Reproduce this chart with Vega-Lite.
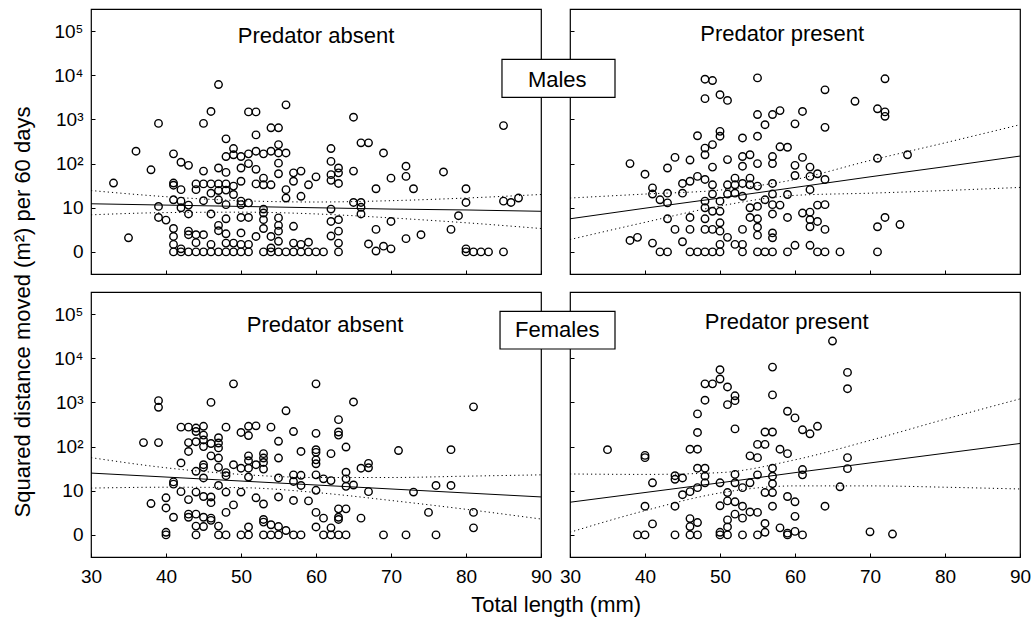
{
  "$schema": "https://vega.github.io/schema/vega-lite/v6.json",
  "padding": {"left": 12, "top": 8, "right": 4, "bottom": 8},
  "background": "white",
  "config": {
    "font": "Liberation Sans",
    "view": {"stroke": "black", "strokeWidth": 1.2},
    "axis": {"domain": false, "grid": false, "tickColor": "black", "labelColor": "black", "labelFont": "Liberation Sans", "labelFontSize": 19, "labelOverlap": false, "labelFlush": false},
    "title": {"font": "Liberation Sans", "fontSize": 22, "fontWeight": "normal", "color": "black"},
    "text": {"font": "Liberation Sans", "fontSize": 22, "color": "black"}
  },
  "title": {"text": "Squared distance moved (m²) per 60 days", "orient": "left", "anchor": "middle", "offset": 18},
  "datasets": {
    "fits": [
      {"panel": "males_absent", "length": 30, "fit": 1.09, "lo": 0.84, "hi": 1.39},
      {"panel": "males_absent", "length": 40, "fit": 1.06, "lo": 0.89, "hi": 1.25},
      {"panel": "males_absent", "length": 50, "fit": 1.03, "lo": 0.90, "hi": 1.16},
      {"panel": "males_absent", "length": 60, "fit": 1.00, "lo": 0.86, "hi": 1.13},
      {"panel": "males_absent", "length": 70, "fit": 0.97, "lo": 0.77, "hi": 1.16},
      {"panel": "males_absent", "length": 80, "fit": 0.95, "lo": 0.66, "hi": 1.22},
      {"panel": "males_absent", "length": 90, "fit": 0.92, "lo": 0.53, "hi": 1.30},
      {"panel": "males_present", "length": 30, "fit": 0.75, "lo": 0.28, "hi": 1.22},
      {"panel": "males_present", "length": 40, "fit": 0.99, "lo": 0.67, "hi": 1.31},
      {"panel": "males_present", "length": 50, "fit": 1.22, "lo": 1.04, "hi": 1.40},
      {"panel": "males_present", "length": 60, "fit": 1.46, "lo": 1.28, "hi": 1.64},
      {"panel": "males_present", "length": 70, "fit": 1.70, "lo": 1.33, "hi": 2.07},
      {"panel": "males_present", "length": 80, "fit": 1.93, "lo": 1.39, "hi": 2.47},
      {"panel": "males_present", "length": 90, "fit": 2.17, "lo": 1.46, "hi": 2.88},
      {"panel": "females_absent", "length": 30, "fit": 1.40, "lo": 1.06, "hi": 1.75},
      {"panel": "females_absent", "length": 40, "fit": 1.31, "lo": 1.08, "hi": 1.52},
      {"panel": "females_absent", "length": 50, "fit": 1.22, "lo": 1.07, "hi": 1.37},
      {"panel": "females_absent", "length": 60, "fit": 1.13, "lo": 0.96, "hi": 1.30},
      {"panel": "females_absent", "length": 70, "fit": 1.04, "lo": 0.78, "hi": 1.30},
      {"panel": "females_absent", "length": 80, "fit": 0.95, "lo": 0.58, "hi": 1.33},
      {"panel": "females_absent", "length": 90, "fit": 0.86, "lo": 0.36, "hi": 1.36},
      {"panel": "females_present", "length": 30, "fit": 0.74, "lo": 0.06, "hi": 1.38},
      {"panel": "females_present", "length": 40, "fit": 0.96, "lo": 0.55, "hi": 1.37},
      {"panel": "females_present", "length": 50, "fit": 1.18, "lo": 0.95, "hi": 1.41},
      {"panel": "females_present", "length": 60, "fit": 1.41, "lo": 1.11, "hi": 1.70},
      {"panel": "females_present", "length": 70, "fit": 1.63, "lo": 1.11, "hi": 2.14},
      {"panel": "females_present", "length": 80, "fit": 1.85, "lo": 1.08, "hi": 2.62},
      {"panel": "females_present", "length": 90, "fit": 2.07, "lo": 1.04, "hi": 3.08}
    ],
    "males_absent": [
      {"length": 33, "log_dist": 1.56}, {"length": 35, "log_dist": 0.32}, {"length": 36, "log_dist": 2.28}, {"length": 38, "log_dist": 1.86},
      {"length": 39, "log_dist": 2.91}, {"length": 39, "log_dist": 1.03}, {"length": 39, "log_dist": 0.78}, {"length": 40, "log_dist": 0.72},
      {"length": 41, "log_dist": 2.22}, {"length": 41, "log_dist": 1.56}, {"length": 41, "log_dist": 1.51}, {"length": 41, "log_dist": 1.18}, {"length": 41, "log_dist": 0.53}, {"length": 41, "log_dist": 0.35}, {"length": 41, "log_dist": 0.17}, {"length": 41, "log_dist": 0},
      {"length": 42, "log_dist": 2.03}, {"length": 42, "log_dist": 1.41}, {"length": 42, "log_dist": 1.15}, {"length": 42, "log_dist": 1.0}, {"length": 42, "log_dist": 0.07}, {"length": 42, "log_dist": 0},
      {"length": 43, "log_dist": 1.96}, {"length": 43, "log_dist": 1.06}, {"length": 43, "log_dist": 0.86}, {"length": 43, "log_dist": 0.47}, {"length": 43, "log_dist": 0.39}, {"length": 43, "log_dist": 0},
      {"length": 44, "log_dist": 1.54}, {"length": 44, "log_dist": 1.41}, {"length": 44, "log_dist": 0.39}, {"length": 44, "log_dist": 0.21}, {"length": 44, "log_dist": 0},
      {"length": 45, "log_dist": 2.91}, {"length": 45, "log_dist": 1.83}, {"length": 45, "log_dist": 1.54}, {"length": 45, "log_dist": 1.16}, {"length": 45, "log_dist": 0.39}, {"length": 45, "log_dist": 0},
      {"length": 46, "log_dist": 3.18}, {"length": 46, "log_dist": 1.54}, {"length": 46, "log_dist": 1.33}, {"length": 46, "log_dist": 0.86}, {"length": 46, "log_dist": 0.17}, {"length": 46, "log_dist": 0},
      {"length": 47, "log_dist": 3.79}, {"length": 47, "log_dist": 1.90}, {"length": 47, "log_dist": 1.54}, {"length": 47, "log_dist": 1.39}, {"length": 47, "log_dist": 1.18}, {"length": 47, "log_dist": 0.60}, {"length": 47, "log_dist": 0.48}, {"length": 47, "log_dist": 0},
      {"length": 48, "log_dist": 2.56}, {"length": 48, "log_dist": 2.16}, {"length": 48, "log_dist": 1.80}, {"length": 48, "log_dist": 1.54}, {"length": 48, "log_dist": 1.40}, {"length": 48, "log_dist": 1.07}, {"length": 48, "log_dist": 0.75}, {"length": 48, "log_dist": 0.41}, {"length": 48, "log_dist": 0.20}, {"length": 48, "log_dist": 0},
      {"length": 49, "log_dist": 2.34}, {"length": 49, "log_dist": 2.20}, {"length": 49, "log_dist": 1.49}, {"length": 49, "log_dist": 1.30}, {"length": 49, "log_dist": 0.20}, {"length": 49, "log_dist": 0},
      {"length": 50, "log_dist": 2.16}, {"length": 50, "log_dist": 1.90}, {"length": 50, "log_dist": 1.60}, {"length": 50, "log_dist": 1.15}, {"length": 50, "log_dist": 1.07}, {"length": 50, "log_dist": 0.78}, {"length": 50, "log_dist": 0.43}, {"length": 50, "log_dist": 0.17}, {"length": 50, "log_dist": 0},
      {"length": 51, "log_dist": 3.17}, {"length": 51, "log_dist": 2.22}, {"length": 51, "log_dist": 2.00}, {"length": 51, "log_dist": 1.11}, {"length": 51, "log_dist": 0.78}, {"length": 51, "log_dist": 0.17}, {"length": 51, "log_dist": 0},
      {"length": 52, "log_dist": 3.17}, {"length": 52, "log_dist": 2.65}, {"length": 52, "log_dist": 2.28}, {"length": 52, "log_dist": 1.87}, {"length": 52, "log_dist": 1.54}, {"length": 52, "log_dist": 0.35},
      {"length": 53, "log_dist": 2.22}, {"length": 53, "log_dist": 1.67}, {"length": 53, "log_dist": 1.52}, {"length": 53, "log_dist": 0.97}, {"length": 53, "log_dist": 0.88}, {"length": 53, "log_dist": 0.73}, {"length": 53, "log_dist": 0.53}, {"length": 53, "log_dist": 0},
      {"length": 54, "log_dist": 2.81}, {"length": 54, "log_dist": 2.28}, {"length": 54, "log_dist": 1.52}, {"length": 54, "log_dist": 0.35}, {"length": 54, "log_dist": 0.09}, {"length": 54, "log_dist": 0},
      {"length": 55, "log_dist": 2.81}, {"length": 55, "log_dist": 2.43}, {"length": 55, "log_dist": 2.24}, {"length": 55, "log_dist": 2.01}, {"length": 55, "log_dist": 1.77}, {"length": 55, "log_dist": 0.77}, {"length": 55, "log_dist": 0.60}, {"length": 55, "log_dist": 0.47}, {"length": 55, "log_dist": 0.24}, {"length": 55, "log_dist": 0},
      {"length": 56, "log_dist": 3.33}, {"length": 56, "log_dist": 2.24}, {"length": 56, "log_dist": 1.41}, {"length": 56, "log_dist": 1.22}, {"length": 56, "log_dist": 0},
      {"length": 57, "log_dist": 1.79}, {"length": 57, "log_dist": 1.60}, {"length": 57, "log_dist": 0.58}, {"length": 57, "log_dist": 0.20}, {"length": 57, "log_dist": 0},
      {"length": 58, "log_dist": 1.83}, {"length": 58, "log_dist": 1.26}, {"length": 58, "log_dist": 0.17}, {"length": 58, "log_dist": 0},
      {"length": 59, "log_dist": 1.52}, {"length": 59, "log_dist": 0.22}, {"length": 59, "log_dist": 0},
      {"length": 60, "log_dist": 1.70}, {"length": 60, "log_dist": 0}, {"length": 61, "log_dist": 0},
      {"length": 62, "log_dist": 2.34}, {"length": 62, "log_dist": 2.05}, {"length": 62, "log_dist": 1.75}, {"length": 62, "log_dist": 1.62}, {"length": 62, "log_dist": 0.97}, {"length": 62, "log_dist": 0.69}, {"length": 62, "log_dist": 0.36},
      {"length": 63, "log_dist": 1.90}, {"length": 63, "log_dist": 1.79}, {"length": 63, "log_dist": 1.55}, {"length": 63, "log_dist": 0.73}, {"length": 63, "log_dist": 0.47}, {"length": 63, "log_dist": 0.20}, {"length": 63, "log_dist": 0},
      {"length": 65, "log_dist": 3.05}, {"length": 65, "log_dist": 1.83}, {"length": 65, "log_dist": 1.12},
      {"length": 66, "log_dist": 2.47}, {"length": 66, "log_dist": 1.12}, {"length": 66, "log_dist": 1.01}, {"length": 66, "log_dist": 0.86},
      {"length": 67, "log_dist": 2.47}, {"length": 67, "log_dist": 0.18},
      {"length": 68, "log_dist": 1.43}, {"length": 68, "log_dist": 0.51}, {"length": 68, "log_dist": 0.02},
      {"length": 69, "log_dist": 2.24}, {"length": 69, "log_dist": 0.13},
      {"length": 70, "log_dist": 1.67}, {"length": 70, "log_dist": 0.69}, {"length": 70, "log_dist": 0.07},
      {"length": 72, "log_dist": 1.94}, {"length": 72, "log_dist": 1.71}, {"length": 72, "log_dist": 0.30},
      {"length": 73, "log_dist": 1.43}, {"length": 74, "log_dist": 0.39}, {"length": 77, "log_dist": 1.81}, {"length": 78, "log_dist": 0.51}, {"length": 79, "log_dist": 0.82},
      {"length": 80, "log_dist": 1.43}, {"length": 80, "log_dist": 1.12}, {"length": 80, "log_dist": 0.07}, {"length": 80, "log_dist": 0},
      {"length": 81, "log_dist": 0}, {"length": 82, "log_dist": 0}, {"length": 83, "log_dist": 0},
      {"length": 85, "log_dist": 2.86}, {"length": 85, "log_dist": 1.15}, {"length": 85, "log_dist": 0},
      {"length": 86, "log_dist": 1.12}, {"length": 87, "log_dist": 1.22}
    ],
    "males_present": [
      {"length": 38, "log_dist": 2.0}, {"length": 38, "log_dist": 0.26}, {"length": 39, "log_dist": 0.33}, {"length": 40, "log_dist": 1.76},
      {"length": 41, "log_dist": 1.45}, {"length": 41, "log_dist": 1.31}, {"length": 41, "log_dist": 0.20},
      {"length": 42, "log_dist": 1.18}, {"length": 42, "log_dist": 0},
      {"length": 43, "log_dist": 1.90}, {"length": 43, "log_dist": 1.33}, {"length": 43, "log_dist": 1.11}, {"length": 43, "log_dist": 0.75}, {"length": 43, "log_dist": 0},
      {"length": 44, "log_dist": 2.14}, {"length": 44, "log_dist": 0.51},
      {"length": 45, "log_dist": 1.55}, {"length": 45, "log_dist": 1.33}, {"length": 45, "log_dist": 0.23},
      {"length": 46, "log_dist": 2.08}, {"length": 46, "log_dist": 1.60}, {"length": 46, "log_dist": 0.78}, {"length": 46, "log_dist": 0.51}, {"length": 46, "log_dist": 0},
      {"length": 47, "log_dist": 2.63}, {"length": 47, "log_dist": 1.71}, {"length": 47, "log_dist": 0},
      {"length": 48, "log_dist": 3.91}, {"length": 48, "log_dist": 3.47}, {"length": 48, "log_dist": 2.35}, {"length": 48, "log_dist": 2.20}, {"length": 48, "log_dist": 1.64}, {"length": 48, "log_dist": 1.15}, {"length": 48, "log_dist": 1.00}, {"length": 48, "log_dist": 0.75}, {"length": 48, "log_dist": 0.51}, {"length": 48, "log_dist": 0},
      {"length": 49, "log_dist": 3.88}, {"length": 49, "log_dist": 2.43}, {"length": 49, "log_dist": 1.92}, {"length": 49, "log_dist": 1.52}, {"length": 49, "log_dist": 1.31}, {"length": 49, "log_dist": 0.92}, {"length": 49, "log_dist": 0.51}, {"length": 49, "log_dist": 0},
      {"length": 50, "log_dist": 3.56}, {"length": 50, "log_dist": 2.73}, {"length": 50, "log_dist": 2.62}, {"length": 50, "log_dist": 1.15}, {"length": 50, "log_dist": 0.92}, {"length": 50, "log_dist": 0.66}, {"length": 50, "log_dist": 0.47}, {"length": 50, "log_dist": 0.17}, {"length": 50, "log_dist": 0},
      {"length": 51, "log_dist": 3.43}, {"length": 51, "log_dist": 2.09}, {"length": 51, "log_dist": 1.52}, {"length": 51, "log_dist": 1.31}, {"length": 51, "log_dist": 0.33},
      {"length": 52, "log_dist": 1.67}, {"length": 52, "log_dist": 1.52}, {"length": 52, "log_dist": 1.33}, {"length": 52, "log_dist": 0.17},
      {"length": 53, "log_dist": 2.58}, {"length": 53, "log_dist": 2.16}, {"length": 53, "log_dist": 1.94}, {"length": 53, "log_dist": 1.55}, {"length": 53, "log_dist": 1.26}, {"length": 53, "log_dist": 0.51}, {"length": 53, "log_dist": 0.17}, {"length": 53, "log_dist": 0},
      {"length": 54, "log_dist": 2.20}, {"length": 54, "log_dist": 1.67}, {"length": 54, "log_dist": 1.52}, {"length": 54, "log_dist": 1.00}, {"length": 54, "log_dist": 0.78},
      {"length": 55, "log_dist": 3.94}, {"length": 55, "log_dist": 3.11}, {"length": 55, "log_dist": 2.62}, {"length": 55, "log_dist": 2.00}, {"length": 55, "log_dist": 1.49}, {"length": 55, "log_dist": 1.03}, {"length": 55, "log_dist": 0.75}, {"length": 55, "log_dist": 0.56}, {"length": 55, "log_dist": 0.38}, {"length": 55, "log_dist": 0},
      {"length": 56, "log_dist": 2.88}, {"length": 56, "log_dist": 1.18}, {"length": 56, "log_dist": 0},
      {"length": 57, "log_dist": 3.11}, {"length": 57, "log_dist": 2.16}, {"length": 57, "log_dist": 2.00}, {"length": 57, "log_dist": 1.55}, {"length": 57, "log_dist": 1.31}, {"length": 57, "log_dist": 1.07}, {"length": 57, "log_dist": 0.86}, {"length": 57, "log_dist": 0.43}, {"length": 57, "log_dist": 0.32}, {"length": 57, "log_dist": 0},
      {"length": 58, "log_dist": 3.20}, {"length": 58, "log_dist": 2.38}, {"length": 58, "log_dist": 1.06},
      {"length": 59, "log_dist": 2.37}, {"length": 59, "log_dist": 1.30}, {"length": 59, "log_dist": 0.78}, {"length": 59, "log_dist": 0},
      {"length": 60, "log_dist": 2.90}, {"length": 60, "log_dist": 1.96}, {"length": 60, "log_dist": 1.73}, {"length": 60, "log_dist": 0.15},
      {"length": 61, "log_dist": 3.18}, {"length": 61, "log_dist": 2.14}, {"length": 61, "log_dist": 0.88},
      {"length": 62, "log_dist": 1.92}, {"length": 62, "log_dist": 1.71}, {"length": 62, "log_dist": 1.41}, {"length": 62, "log_dist": 0.90}, {"length": 62, "log_dist": 0.73}, {"length": 62, "log_dist": 0.57}, {"length": 62, "log_dist": 0.15},
      {"length": 63, "log_dist": 1.77}, {"length": 63, "log_dist": 1.06}, {"length": 63, "log_dist": 0.69}, {"length": 63, "log_dist": 0},
      {"length": 64, "log_dist": 3.67}, {"length": 64, "log_dist": 2.82}, {"length": 64, "log_dist": 1.64}, {"length": 64, "log_dist": 1.07}, {"length": 64, "log_dist": 0.51}, {"length": 64, "log_dist": 0},
      {"length": 66, "log_dist": 0}, {"length": 68, "log_dist": 3.41},
      {"length": 71, "log_dist": 3.24}, {"length": 71, "log_dist": 2.12}, {"length": 71, "log_dist": 0.57}, {"length": 71, "log_dist": 0},
      {"length": 72, "log_dist": 3.92}, {"length": 72, "log_dist": 3.17}, {"length": 72, "log_dist": 3.07}, {"length": 72, "log_dist": 0.78},
      {"length": 74, "log_dist": 0.62}, {"length": 75, "log_dist": 2.20}
    ],
    "females_absent": [
      {"length": 37, "log_dist": 2.09}, {"length": 38, "log_dist": 0.71},
      {"length": 39, "log_dist": 3.04}, {"length": 39, "log_dist": 2.89}, {"length": 39, "log_dist": 2.09},
      {"length": 40, "log_dist": 0.84}, {"length": 40, "log_dist": 0.61}, {"length": 40, "log_dist": 0.06}, {"length": 40, "log_dist": 0},
      {"length": 41, "log_dist": 1.20}, {"length": 41, "log_dist": 1.15}, {"length": 41, "log_dist": 0.40},
      {"length": 42, "log_dist": 2.44}, {"length": 42, "log_dist": 1.63}, {"length": 42, "log_dist": 0.98},
      {"length": 43, "log_dist": 2.44}, {"length": 43, "log_dist": 2.09}, {"length": 43, "log_dist": 1.89}, {"length": 43, "log_dist": 0.80}, {"length": 43, "log_dist": 0.47}, {"length": 43, "log_dist": 0.40},
      {"length": 44, "log_dist": 2.42}, {"length": 44, "log_dist": 2.34}, {"length": 44, "log_dist": 2.11}, {"length": 44, "log_dist": 1.44}, {"length": 44, "log_dist": 0.97}, {"length": 44, "log_dist": 0.47}, {"length": 44, "log_dist": 0.20}, {"length": 44, "log_dist": 0},
      {"length": 45, "log_dist": 2.46}, {"length": 45, "log_dist": 2.26}, {"length": 45, "log_dist": 2.15}, {"length": 45, "log_dist": 2.0}, {"length": 45, "log_dist": 1.59}, {"length": 45, "log_dist": 1.53}, {"length": 45, "log_dist": 1.29}, {"length": 45, "log_dist": 0.87}, {"length": 45, "log_dist": 0.40}, {"length": 45, "log_dist": 0.19},
      {"length": 46, "log_dist": 3.0}, {"length": 46, "log_dist": 2.07}, {"length": 46, "log_dist": 1.79}, {"length": 46, "log_dist": 0.86}, {"length": 46, "log_dist": 0.73}, {"length": 46, "log_dist": 0.38}, {"length": 46, "log_dist": 0.33},
      {"length": 47, "log_dist": 2.20}, {"length": 47, "log_dist": 2.08}, {"length": 47, "log_dist": 1.97}, {"length": 47, "log_dist": 1.74}, {"length": 47, "log_dist": 1.53}, {"length": 47, "log_dist": 1.12}, {"length": 47, "log_dist": 0.20}, {"length": 47, "log_dist": 0},
      {"length": 48, "log_dist": 2.44}, {"length": 48, "log_dist": 1.41}, {"length": 48, "log_dist": 1.34}, {"length": 48, "log_dist": 0.97}, {"length": 48, "log_dist": 0.51}, {"length": 48, "log_dist": 0},
      {"length": 49, "log_dist": 3.42}, {"length": 49, "log_dist": 1.59}, {"length": 49, "log_dist": 0.68},
      {"length": 50, "log_dist": 2.32}, {"length": 50, "log_dist": 1.51}, {"length": 50, "log_dist": 0.97}, {"length": 50, "log_dist": 0},
      {"length": 51, "log_dist": 2.46}, {"length": 51, "log_dist": 2.25}, {"length": 51, "log_dist": 1.79}, {"length": 51, "log_dist": 1.68}, {"length": 51, "log_dist": 1.51}, {"length": 51, "log_dist": 1.31}, {"length": 51, "log_dist": 0.18}, {"length": 51, "log_dist": 0},
      {"length": 52, "log_dist": 2.47}, {"length": 52, "log_dist": 1.59}, {"length": 52, "log_dist": 0.84},
      {"length": 53, "log_dist": 1.84}, {"length": 53, "log_dist": 1.74}, {"length": 53, "log_dist": 1.64}, {"length": 53, "log_dist": 1.49}, {"length": 53, "log_dist": 0.70}, {"length": 53, "log_dist": 0.35}, {"length": 53, "log_dist": 0.29}, {"length": 53, "log_dist": 0},
      {"length": 54, "log_dist": 2.44}, {"length": 54, "log_dist": 0.23}, {"length": 54, "log_dist": 0},
      {"length": 55, "log_dist": 2.12}, {"length": 55, "log_dist": 1.74}, {"length": 55, "log_dist": 1.29}, {"length": 55, "log_dist": 0.86}, {"length": 55, "log_dist": 0.19}, {"length": 55, "log_dist": 0},
      {"length": 56, "log_dist": 2.81}, {"length": 56, "log_dist": 0.10},
      {"length": 57, "log_dist": 2.34}, {"length": 57, "log_dist": 1.36}, {"length": 57, "log_dist": 1.21}, {"length": 57, "log_dist": 0.78}, {"length": 57, "log_dist": 0},
      {"length": 58, "log_dist": 1.89}, {"length": 58, "log_dist": 1.35}, {"length": 58, "log_dist": 1.12}, {"length": 58, "log_dist": 0},
      {"length": 59, "log_dist": 0.77},
      {"length": 60, "log_dist": 3.42}, {"length": 60, "log_dist": 2.30}, {"length": 60, "log_dist": 1.93}, {"length": 60, "log_dist": 1.87}, {"length": 60, "log_dist": 1.70}, {"length": 60, "log_dist": 1.61}, {"length": 60, "log_dist": 1.36}, {"length": 60, "log_dist": 1.01}, {"length": 60, "log_dist": 0.51}, {"length": 60, "log_dist": 0.18},
      {"length": 61, "log_dist": 1.27}, {"length": 61, "log_dist": 0.38}, {"length": 61, "log_dist": 0},
      {"length": 62, "log_dist": 1.84}, {"length": 62, "log_dist": 1.23}, {"length": 62, "log_dist": 0.16}, {"length": 62, "log_dist": 0},
      {"length": 63, "log_dist": 2.61}, {"length": 63, "log_dist": 2.33}, {"length": 63, "log_dist": 2.26}, {"length": 63, "log_dist": 0.59}, {"length": 63, "log_dist": 0.40}, {"length": 63, "log_dist": 0.35}, {"length": 63, "log_dist": 0},
      {"length": 64, "log_dist": 1.99}, {"length": 64, "log_dist": 1.42}, {"length": 64, "log_dist": 1.27}, {"length": 64, "log_dist": 1.10}, {"length": 64, "log_dist": 0.59}, {"length": 64, "log_dist": 0},
      {"length": 65, "log_dist": 3.01}, {"length": 65, "log_dist": 1.13},
      {"length": 66, "log_dist": 1.51}, {"length": 66, "log_dist": 0.38},
      {"length": 67, "log_dist": 1.62}, {"length": 67, "log_dist": 1.52}, {"length": 67, "log_dist": 0.98},
      {"length": 69, "log_dist": 0}, {"length": 71, "log_dist": 1.91}, {"length": 72, "log_dist": 0}, {"length": 73, "log_dist": 0.97}, {"length": 75, "log_dist": 0.51},
      {"length": 76, "log_dist": 1.12}, {"length": 76, "log_dist": 0},
      {"length": 78, "log_dist": 1.93}, {"length": 78, "log_dist": 1.12},
      {"length": 81, "log_dist": 2.90}, {"length": 81, "log_dist": 0.51}, {"length": 81, "log_dist": 0.16}
    ],
    "females_present": [
      {"length": 35, "log_dist": 1.93}, {"length": 39, "log_dist": 0},
      {"length": 40, "log_dist": 1.80}, {"length": 40, "log_dist": 1.75}, {"length": 40, "log_dist": 0.65}, {"length": 40, "log_dist": 0},
      {"length": 41, "log_dist": 1.18}, {"length": 41, "log_dist": 0.25},
      {"length": 44, "log_dist": 1.34}, {"length": 44, "log_dist": 1.26}, {"length": 44, "log_dist": 0.65}, {"length": 44, "log_dist": 0},
      {"length": 45, "log_dist": 1.29}, {"length": 45, "log_dist": 0.91},
      {"length": 46, "log_dist": 1.94}, {"length": 46, "log_dist": 0.98}, {"length": 46, "log_dist": 0.37}, {"length": 46, "log_dist": 0.19}, {"length": 46, "log_dist": 0},
      {"length": 47, "log_dist": 2.74}, {"length": 47, "log_dist": 2.32}, {"length": 47, "log_dist": 1.94}, {"length": 47, "log_dist": 1.51}, {"length": 47, "log_dist": 1.07}, {"length": 47, "log_dist": 0.28}, {"length": 47, "log_dist": 0},
      {"length": 48, "log_dist": 3.42}, {"length": 48, "log_dist": 3.05}, {"length": 48, "log_dist": 1.51}, {"length": 48, "log_dist": 1.33}, {"length": 48, "log_dist": 1.18},
      {"length": 49, "log_dist": 3.42},
      {"length": 50, "log_dist": 3.74}, {"length": 50, "log_dist": 3.53}, {"length": 50, "log_dist": 1.18}, {"length": 50, "log_dist": 0.66}, {"length": 50, "log_dist": 0.06}, {"length": 50, "log_dist": 0},
      {"length": 51, "log_dist": 3.35}, {"length": 51, "log_dist": 2.95}, {"length": 51, "log_dist": 0.96}, {"length": 51, "log_dist": 0.77}, {"length": 51, "log_dist": 0.34}, {"length": 51, "log_dist": 0.18}, {"length": 51, "log_dist": 0},
      {"length": 52, "log_dist": 3.15}, {"length": 52, "log_dist": 3.04}, {"length": 52, "log_dist": 2.40}, {"length": 52, "log_dist": 1.37}, {"length": 52, "log_dist": 1.18}, {"length": 52, "log_dist": 0.75}, {"length": 52, "log_dist": 0.47},
      {"length": 53, "log_dist": 1.07}, {"length": 53, "log_dist": 0.65}, {"length": 53, "log_dist": 0.38}, {"length": 53, "log_dist": 0},
      {"length": 54, "log_dist": 1.79}, {"length": 54, "log_dist": 1.18}, {"length": 54, "log_dist": 0.52},
      {"length": 55, "log_dist": 2.05}, {"length": 55, "log_dist": 1.75}, {"length": 55, "log_dist": 1.36}, {"length": 55, "log_dist": 0.51}, {"length": 55, "log_dist": 0},
      {"length": 56, "log_dist": 2.33}, {"length": 56, "log_dist": 2.05}, {"length": 56, "log_dist": 0.96}, {"length": 56, "log_dist": 0.26}, {"length": 56, "log_dist": 0.06},
      {"length": 57, "log_dist": 3.80}, {"length": 57, "log_dist": 3.17}, {"length": 57, "log_dist": 2.33}, {"length": 57, "log_dist": 1.51}, {"length": 57, "log_dist": 1.33}, {"length": 57, "log_dist": 1.16}, {"length": 57, "log_dist": 0.96}, {"length": 57, "log_dist": 0.65},
      {"length": 58, "log_dist": 1.94}, {"length": 58, "log_dist": 0.16},
      {"length": 59, "log_dist": 2.80}, {"length": 59, "log_dist": 1.84}, {"length": 59, "log_dist": 0.87}, {"length": 59, "log_dist": 0.04}, {"length": 59, "log_dist": 0},
      {"length": 60, "log_dist": 2.65}, {"length": 60, "log_dist": 0.75}, {"length": 60, "log_dist": 0.42}, {"length": 60, "log_dist": 0.08},
      {"length": 61, "log_dist": 2.38}, {"length": 61, "log_dist": 1.48}, {"length": 61, "log_dist": 1.36}, {"length": 61, "log_dist": 0},
      {"length": 62, "log_dist": 2.29}, {"length": 63, "log_dist": 2.46}, {"length": 64, "log_dist": 0.65}, {"length": 65, "log_dist": 4.39}, {"length": 66, "log_dist": 1.09},
      {"length": 67, "log_dist": 3.68}, {"length": 67, "log_dist": 3.31}, {"length": 67, "log_dist": 1.75}, {"length": 67, "log_dist": 1.50},
      {"length": 70, "log_dist": 0.07}, {"length": 73, "log_dist": 0.02}
    ]
  },
  "spacing": 15,
  "vconcat": [
    {
      "spacing": 29,
      "bounds": "flush",
      "hconcat": [
        {
          "width": 450, "height": 265,
          "layer": [
            {"data": {"name": "fits"}, "transform": [{"filter": "datum.panel === 'males_absent'"}],
             "mark": {"type": "line", "stroke": "black", "strokeWidth": 1},
             "encoding": {
               "x": {"field": "length", "type": "quantitative", "title": null, "scale": {"domain": [30, 90], "nice": false, "zero": false},
                     "axis": {"values": [30, 35, 40, 45, 50, 55, 60, 65, 70, 75, 80, 85, 90], "labels": false, "tickSize": -4, "title": null}},
               "y": {"field": "fit", "type": "quantitative", "title": null, "scale": {"domain": [-0.5, 5.5], "nice": false, "zero": false},
                     "axis": {"values": [0, 0.5, 1, 1.5, 2, 2.5, 3, 3.5, 4, 4.5, 5], "tickSize": -4, "labelPadding": 12, "title": null,
                              "labelExpr": "datum.value === 0 ? '0' : datum.value === 1 ? '10' : datum.value === 2 ? '10²' : datum.value === 3 ? '10³' : datum.value === 4 ? '10⁴' : datum.value === 5 ? '10⁵' : ''"}}
             }},
            {"data": {"name": "fits"}, "transform": [{"filter": "datum.panel === 'males_absent'"}],
             "mark": {"type": "line", "stroke": "black", "strokeWidth": 1, "strokeDash": [1.2, 3], "interpolate": "monotone"},
             "encoding": {"x": {"field": "length", "type": "quantitative", "title": null}, "y": {"field": "lo", "type": "quantitative", "title": null}}},
            {"data": {"name": "fits"}, "transform": [{"filter": "datum.panel === 'males_absent'"}],
             "mark": {"type": "line", "stroke": "black", "strokeWidth": 1, "strokeDash": [1.2, 3], "interpolate": "monotone"},
             "encoding": {"x": {"field": "length", "type": "quantitative", "title": null}, "y": {"field": "hi", "type": "quantitative", "title": null}}},
            {"data": {"name": "males_absent"},
             "mark": {"type": "point", "shape": "circle", "filled": false, "size": 56, "color": "black", "strokeWidth": 1.4, "opacity": 1},
             "encoding": {"x": {"field": "length", "type": "quantitative", "title": null}, "y": {"field": "log_dist", "type": "quantitative", "title": null}}},
            {"data": {"values": [{}]},
             "mark": {"type": "text", "fontSize": 22, "align": "center", "baseline": "middle"},
             "encoding": {"x": {"datum": 60}, "y": {"datum": 4.88}, "text": {"value": "Predator absent"}}}
          ]
        },
        {
          "width": 450, "height": 265,
          "layer": [
            {"data": {"name": "fits"}, "transform": [{"filter": "datum.panel === 'males_present'"}],
             "mark": {"type": "line", "stroke": "black", "strokeWidth": 1},
             "encoding": {
               "x": {"field": "length", "type": "quantitative", "title": null, "scale": {"domain": [30, 90], "nice": false, "zero": false},
                     "axis": {"values": [30, 35, 40, 45, 50, 55, 60, 65, 70, 75, 80, 85, 90], "labels": false, "tickSize": -4, "title": null}},
               "y": {"field": "fit", "type": "quantitative", "title": null, "scale": {"domain": [-0.5, 5.5], "nice": false, "zero": false},
                     "axis": {"values": [0, 0.5, 1, 1.5, 2, 2.5, 3, 3.5, 4, 4.5, 5], "tickSize": -4, "labels": false, "title": null}}
             }},
            {"data": {"name": "fits"}, "transform": [{"filter": "datum.panel === 'males_present'"}],
             "mark": {"type": "line", "stroke": "black", "strokeWidth": 1, "strokeDash": [1.2, 3], "interpolate": "monotone"},
             "encoding": {"x": {"field": "length", "type": "quantitative", "title": null}, "y": {"field": "lo", "type": "quantitative", "title": null}}},
            {"data": {"name": "fits"}, "transform": [{"filter": "datum.panel === 'males_present'"}],
             "mark": {"type": "line", "stroke": "black", "strokeWidth": 1, "strokeDash": [1.2, 3], "interpolate": "monotone"},
             "encoding": {"x": {"field": "length", "type": "quantitative", "title": null}, "y": {"field": "hi", "type": "quantitative", "title": null}}},
            {"data": {"name": "males_present"},
             "mark": {"type": "point", "shape": "circle", "filled": false, "size": 56, "color": "black", "strokeWidth": 1.4, "opacity": 1},
             "encoding": {"x": {"field": "length", "type": "quantitative", "title": null}, "y": {"field": "log_dist", "type": "quantitative", "title": null}}},
            {"data": {"values": [{}]},
             "mark": {"type": "text", "fontSize": 22, "align": "center", "baseline": "middle"},
             "encoding": {"x": {"datum": 58.3}, "y": {"datum": 4.93}, "text": {"value": "Predator present"}}},
            {"data": {"values": [{}]},
             "mark": {"type": "rect", "fill": "white", "stroke": "black", "strokeWidth": 1.2, "clip": false},
             "encoding": {"x": {"datum": 20.93}, "x2": {"datum": 36.0}, "y": {"datum": 4.36}, "y2": {"datum": 3.5}}},
            {"data": {"values": [{}]},
             "mark": {"type": "text", "fontSize": 22, "align": "center", "baseline": "middle", "clip": false},
             "encoding": {"x": {"datum": 28.3}, "y": {"datum": 3.9}, "text": {"value": "Males"}}}
          ]
        }
      ]
    },
    {
      "spacing": 29,
      "bounds": "flush",
      "title": {"text": "Total length (mm)", "orient": "bottom", "anchor": "middle", "offset": 8, "dx": 14},
      "hconcat": [
        {
          "width": 450, "height": 265,
          "layer": [
            {"data": {"name": "fits"}, "transform": [{"filter": "datum.panel === 'females_absent'"}],
             "mark": {"type": "line", "stroke": "black", "strokeWidth": 1},
             "encoding": {
               "x": {"field": "length", "type": "quantitative", "title": null, "scale": {"domain": [30, 90], "nice": false, "zero": false},
                     "axis": {"values": [30, 35, 40, 45, 50, 55, 60, 65, 70, 75, 80, 85, 90], "tickSize": -4, "labelPadding": 14, "title": null,
                              "labelExpr": "datum.value % 10 === 0 ? datum.label : ''"}},
               "y": {"field": "fit", "type": "quantitative", "title": null, "scale": {"domain": [-0.5, 5.5], "nice": false, "zero": false},
                     "axis": {"values": [0, 0.5, 1, 1.5, 2, 2.5, 3, 3.5, 4, 4.5, 5], "tickSize": -4, "labelPadding": 12, "title": null,
                              "labelExpr": "datum.value === 0 ? '0' : datum.value === 1 ? '10' : datum.value === 2 ? '10²' : datum.value === 3 ? '10³' : datum.value === 4 ? '10⁴' : datum.value === 5 ? '10⁵' : ''"}}
             }},
            {"data": {"name": "fits"}, "transform": [{"filter": "datum.panel === 'females_absent'"}],
             "mark": {"type": "line", "stroke": "black", "strokeWidth": 1, "strokeDash": [1.2, 3], "interpolate": "monotone"},
             "encoding": {"x": {"field": "length", "type": "quantitative", "title": null}, "y": {"field": "lo", "type": "quantitative", "title": null}}},
            {"data": {"name": "fits"}, "transform": [{"filter": "datum.panel === 'females_absent'"}],
             "mark": {"type": "line", "stroke": "black", "strokeWidth": 1, "strokeDash": [1.2, 3], "interpolate": "monotone"},
             "encoding": {"x": {"field": "length", "type": "quantitative", "title": null}, "y": {"field": "hi", "type": "quantitative", "title": null}}},
            {"data": {"name": "females_absent"},
             "mark": {"type": "point", "shape": "circle", "filled": false, "size": 56, "color": "black", "strokeWidth": 1.4, "opacity": 1},
             "encoding": {"x": {"field": "length", "type": "quantitative", "title": null}, "y": {"field": "log_dist", "type": "quantitative", "title": null}}},
            {"data": {"values": [{}]},
             "mark": {"type": "text", "fontSize": 22, "align": "center", "baseline": "middle"},
             "encoding": {"x": {"datum": 61.2}, "y": {"datum": 4.76}, "text": {"value": "Predator absent"}}}
          ]
        },
        {
          "width": 450, "height": 265,
          "layer": [
            {"data": {"name": "fits"}, "transform": [{"filter": "datum.panel === 'females_present'"}],
             "mark": {"type": "line", "stroke": "black", "strokeWidth": 1},
             "encoding": {
               "x": {"field": "length", "type": "quantitative", "title": null, "scale": {"domain": [30, 90], "nice": false, "zero": false},
                     "axis": {"values": [30, 35, 40, 45, 50, 55, 60, 65, 70, 75, 80, 85, 90], "tickSize": -4, "labelPadding": 14, "title": null,
                              "labelExpr": "datum.value % 10 === 0 ? datum.label : ''"}},
               "y": {"field": "fit", "type": "quantitative", "title": null, "scale": {"domain": [-0.5, 5.5], "nice": false, "zero": false},
                     "axis": {"values": [0, 0.5, 1, 1.5, 2, 2.5, 3, 3.5, 4, 4.5, 5], "tickSize": -4, "labels": false, "title": null}}
             }},
            {"data": {"name": "fits"}, "transform": [{"filter": "datum.panel === 'females_present'"}],
             "mark": {"type": "line", "stroke": "black", "strokeWidth": 1, "strokeDash": [1.2, 3], "interpolate": "monotone"},
             "encoding": {"x": {"field": "length", "type": "quantitative", "title": null}, "y": {"field": "lo", "type": "quantitative", "title": null}}},
            {"data": {"name": "fits"}, "transform": [{"filter": "datum.panel === 'females_present'"}],
             "mark": {"type": "line", "stroke": "black", "strokeWidth": 1, "strokeDash": [1.2, 3], "interpolate": "monotone"},
             "encoding": {"x": {"field": "length", "type": "quantitative", "title": null}, "y": {"field": "hi", "type": "quantitative", "title": null}}},
            {"data": {"name": "females_present"},
             "mark": {"type": "point", "shape": "circle", "filled": false, "size": 56, "color": "black", "strokeWidth": 1.4, "opacity": 1},
             "encoding": {"x": {"field": "length", "type": "quantitative", "title": null}, "y": {"field": "log_dist", "type": "quantitative", "title": null}}},
            {"data": {"values": [{}]},
             "mark": {"type": "text", "fontSize": 22, "align": "center", "baseline": "middle"},
             "encoding": {"x": {"datum": 58.9}, "y": {"datum": 4.82}, "text": {"value": "Predator present"}}},
            {"data": {"values": [{}]},
             "mark": {"type": "rect", "fill": "white", "stroke": "black", "strokeWidth": 1.2, "clip": false},
             "encoding": {"x": {"datum": 20.67}, "x2": {"datum": 36.0}, "y": {"datum": 5.06}, "y2": {"datum": 4.21}}},
            {"data": {"values": [{}]},
             "mark": {"type": "text", "fontSize": 22, "align": "center", "baseline": "middle", "clip": false},
             "encoding": {"x": {"datum": 28.3}, "y": {"datum": 4.63}, "text": {"value": "Females"}}}
          ]
        }
      ]
    }
  ]
}
